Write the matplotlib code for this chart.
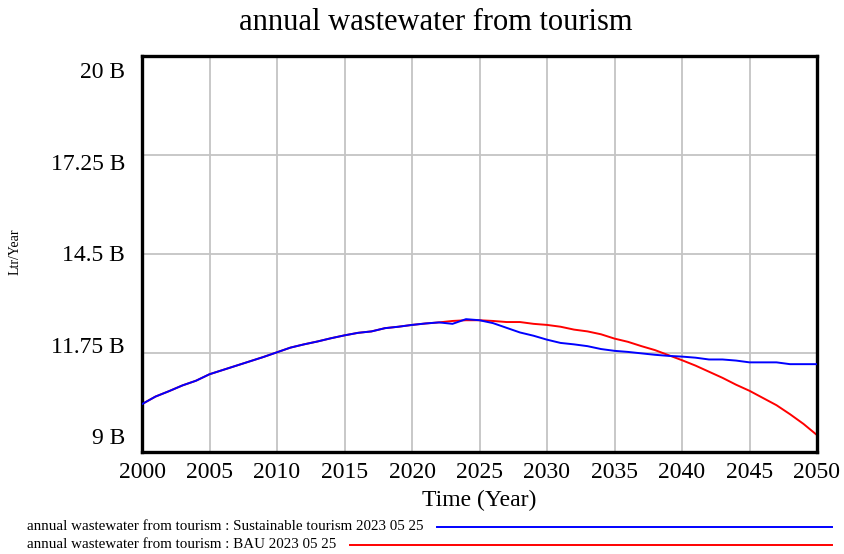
import matplotlib
matplotlib.use("Agg")
import matplotlib.pyplot as plt
import matplotlib.transforms as mtransforms
import numpy as np

plt.rcParams['font.family'] = ['Liberation Serif', 'DejaVu Serif']

years = list(range(2000, 2051))

sustainable = [10.33, 10.54, 10.69, 10.85, 10.98, 11.16, 11.28, 11.40, 11.52, 11.64,
               11.77, 11.90, 11.99, 12.07, 12.16, 12.24, 12.31, 12.35, 12.44, 12.48,
               12.53, 12.57, 12.60, 12.56, 12.69, 12.66, 12.58, 12.45, 12.32, 12.23,
               12.12, 12.03, 11.99, 11.94, 11.86, 11.81, 11.78, 11.74, 11.70, 11.67,
               11.65, 11.62, 11.57, 11.57, 11.54, 11.49, 11.49, 11.49, 11.44, 11.44,
               11.44]

bau = [10.33, 10.54, 10.69, 10.85, 10.98, 11.16, 11.28, 11.40, 11.52, 11.64,
       11.77, 11.90, 11.99, 12.07, 12.16, 12.24, 12.31, 12.35, 12.44, 12.48,
       12.53, 12.57, 12.60, 12.64, 12.66, 12.66, 12.64, 12.61, 12.61, 12.56,
       12.53, 12.48, 12.40, 12.35, 12.27, 12.15, 12.06, 11.94, 11.83, 11.69,
       11.55, 11.40, 11.23, 11.06, 10.87, 10.70, 10.50, 10.30, 10.05, 9.78,
       9.47]

y_ticks = [9.0, 11.75, 14.5, 17.25, 20.0]
y_tick_labels = ["9 B", "11.75 B", "14.5 B", "17.25 B", "20 B"]
x_ticks = list(range(2000, 2051, 5))

W, H = 844, 554
fig = plt.figure(figsize=(W / 100, H / 100), dpi=100)
left, right, top, bottom = 142, 817, 56, 452
ax = fig.add_axes([left / W, 1 - bottom / H, (right - left) / W, (bottom - top) / H])

ax.plot(years, bau, color='#ff0000', lw=1.4, zorder=2)
ax.plot(years, sustainable, color='#0000ff', lw=1.4, zorder=3)

ax.set_xlim(2000, 2050)
ax.set_ylim(9, 20)
ax.set_xticks(x_ticks)
ax.set_xticklabels([str(x) for x in x_ticks], fontsize=17)
ax.set_yticks(y_ticks)
ax.set_yticklabels([])
ax.tick_params(axis='both', length=0, pad=7)
ax.grid(True, color='#c4c4c4', lw=1.3)
ax.set_axisbelow(True)
for s in ax.spines.values():
    s.set_linewidth(2.4)
    s.set_color('black')

# y labels spread evenly inside the axis range
plot_h = bottom - top
label_top_px = 73
label_bot_px = 438.5
n = len(y_ticks)
for i, (val, lab) in enumerate(zip(y_ticks, y_tick_labels)):
    target_px = label_bot_px - i * (label_bot_px - label_top_px) / (n - 1)
    grid_px = bottom - (val - 9) / 11 * plot_h
    dy = (grid_px - target_px) / 100
    trans = mtransforms.blended_transform_factory(ax.transAxes, ax.transData) + \
        mtransforms.ScaledTranslation(0, dy, fig.dpi_scale_trans)
    ax.text(-17 / (right - left), val, lab, transform=trans, ha='right', va='center',
            fontsize=17)

fig.text(436 / W, 1 - 23 / H, "annual wastewater from tourism", ha='center', va='center',
         fontsize=22)
fig.text(479 / W, 1 - 500 / H, "Time (Year)", ha='center', va='center', fontsize=17)
fig.text(15 / W, 1 - 252 / H, "Ltr/Year", ha='center', va='center', rotation=90, fontsize=10)

# legend rows
fig.text(27 / W, 1 - 527 / H, "annual wastewater from tourism : Sustainable tourism 2023 05 25",
         ha='left', va='center', fontsize=10.8)
fig.text(27 / W, 1 - 545 / H, "annual wastewater from tourism : BAU 2023 05 25",
         ha='left', va='center', fontsize=10.8)
fig.add_artist(plt.Line2D([437 / W, 832 / W], [1 - 527 / H, 1 - 527 / H], color='#0000ff',
                          lw=1.4, transform=fig.transFigure))
fig.add_artist(plt.Line2D([350 / W, 832 / W], [1 - 545 / H, 1 - 545 / H], color='#ff0000',
                          lw=1.4, transform=fig.transFigure))

fig.savefig("out.png", dpi=100, facecolor='white')
